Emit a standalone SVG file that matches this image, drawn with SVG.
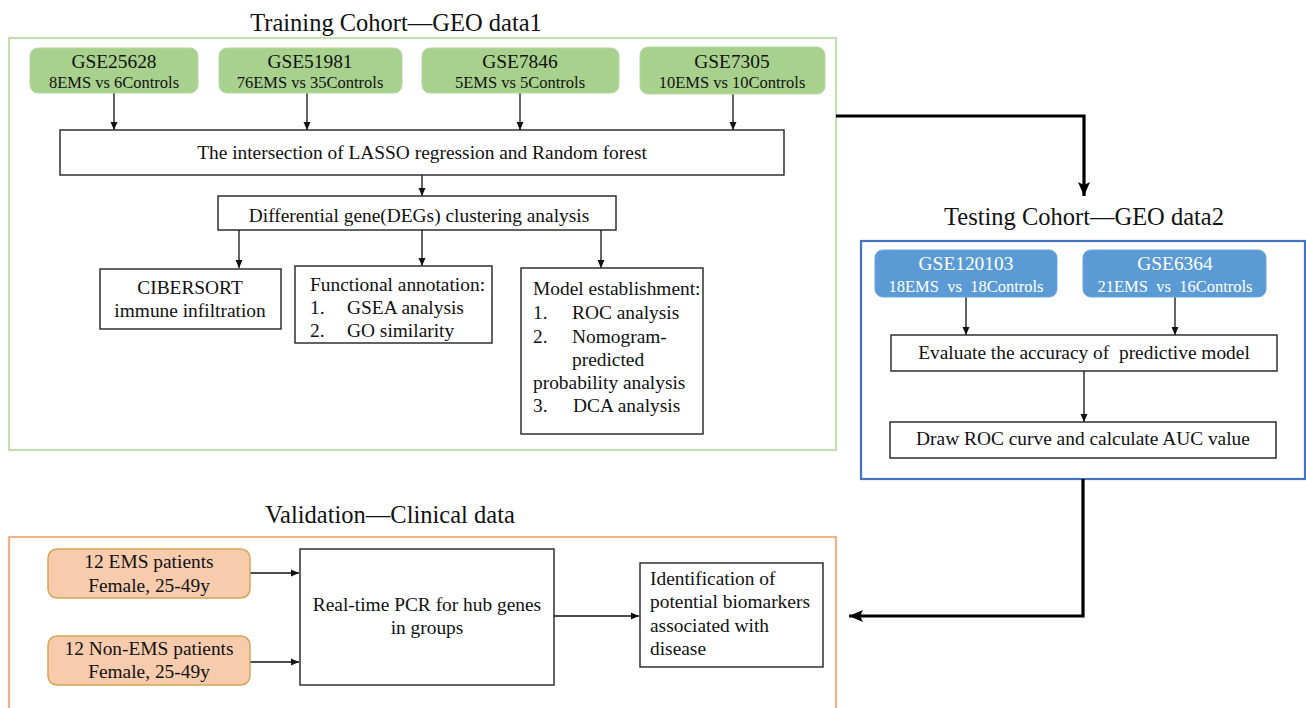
<svg xmlns="http://www.w3.org/2000/svg" width="1306" height="708" viewBox="0 0 1306 708">
<style>
text{font-family:"Liberation Serif","Times New Roman",serif;fill:#111}
.title{font-size:24.5px;text-anchor:middle}
.t19{font-size:19.4px}
.t15{font-size:16.5px}
.t16{font-size:16.5px}
.c{text-anchor:middle}
.box{fill:#fff;stroke:#222;stroke-width:1.4}
.gnode{fill:#a9d18e;stroke:#b5d9a0;stroke-width:1}
.bnode{fill:#5b9bd5;stroke:#6aa5da;stroke-width:1}
.onode{fill:#f8cbad;stroke:#d4a656;stroke-width:1.5}
.w{fill:#fff}
.conn{fill:none;stroke:#111;stroke-width:1.3}
.thick{fill:none;stroke:#000;stroke-width:3.2}
</style>
<defs>
<marker id="a" viewBox="0 0 8 8" refX="8" refY="4" markerWidth="8" markerHeight="8" markerUnits="userSpaceOnUse" orient="auto"><path d="M0,0.5 L8,4 L0,7.5 z" fill="#111"/></marker>
<marker id="A" viewBox="0 0 14 14" refX="14" refY="7" markerWidth="14" markerHeight="14" markerUnits="userSpaceOnUse" orient="auto"><path d="M0,1 L14,7 L0,13 L3,7 z" fill="#000"/></marker>
</defs>

<!-- containers -->
<g id="training-cohort">
<rect x="9" y="38" width="827" height="412" fill="none" stroke="#c5e0b4" stroke-width="2.2"/>
<text class="title" x="396" y="31">Training Cohort—GEO data1</text>
</g>
<g id="testing-cohort">
<rect x="861" y="241" width="444" height="238" fill="none" stroke="#4472c4" stroke-width="2.2"/>
<text class="title" x="1084" y="225">Testing Cohort—GEO data2</text>
</g>
<g id="validation">
<path d="M9,712 L9,537 L836,537 L836,712" fill="none" stroke="#f4b183" stroke-width="2.2"/>
<text class="title" x="390" y="523">Validation—Clinical data</text>
</g>

<!-- connectors -->
<g id="connectors">
<line class="conn" x1="114" y1="93" x2="114" y2="130" marker-end="url(#a)"/>
<line class="conn" x1="307" y1="93" x2="307" y2="130" marker-end="url(#a)"/>
<line class="conn" x1="520" y1="93" x2="520" y2="130" marker-end="url(#a)"/>
<line class="conn" x1="733" y1="94" x2="733" y2="130" marker-end="url(#a)"/>
<line class="conn" x1="422" y1="175" x2="422" y2="196" marker-end="url(#a)"/>
<line class="conn" x1="239" y1="230" x2="239" y2="268" marker-end="url(#a)"/>
<line class="conn" x1="422" y1="230" x2="422" y2="266" marker-end="url(#a)"/>
<line class="conn" x1="601" y1="230" x2="601" y2="268" marker-end="url(#a)"/>
<line class="conn" x1="966" y1="297" x2="966" y2="335" marker-end="url(#a)"/>
<line class="conn" x1="1175" y1="297" x2="1175" y2="335" marker-end="url(#a)"/>
<line class="conn" x1="1084" y1="371" x2="1084" y2="422" marker-end="url(#a)"/>
<line class="conn" x1="250" y1="573" x2="299" y2="573" marker-end="url(#a)"/>
<line class="conn" x1="250" y1="662" x2="299" y2="662" marker-end="url(#a)"/>
<line class="conn" x1="554" y1="616" x2="639" y2="616" marker-end="url(#a)"/>
<polyline class="thick" points="836,116 1084,116 1084,196" marker-end="url(#A)"/>
<polyline class="thick" points="1083,479 1083,616 849,616" marker-end="url(#A)"/>
</g>

<!-- training nodes -->
<g id="gse25628">
<rect class="gnode" x="30" y="48" width="168" height="45" rx="8"/>
<text class="t19 c" x="114" y="68">GSE25628</text>
<text class="t15 c" x="114" y="88">8EMS vs 6Controls</text>
</g>
<g id="gse51981">
<rect class="gnode" x="219" y="48" width="183" height="45" rx="8"/>
<text class="t19 c" x="310" y="68">GSE51981</text>
<text class="t15 c" x="310" y="88">76EMS vs 35Controls</text>
</g>
<g id="gse7846">
<rect class="gnode" x="422" y="48" width="197" height="45" rx="8"/>
<text class="t19 c" x="520" y="68">GSE7846</text>
<text class="t15 c" x="520" y="88">5EMS vs 5Controls</text>
</g>
<g id="gse7305">
<rect class="gnode" x="640" y="47" width="185" height="47" rx="8"/>
<text class="t19 c" x="732" y="68">GSE7305</text>
<text class="t15 c" x="732" y="88">10EMS vs 10Controls</text>
</g>
<g id="lasso-rf">
<rect class="box" x="60" y="130" width="724" height="45"/>
<text class="t19 c" x="422" y="159">The intersection of LASSO regression and Random forest</text>
</g>
<g id="degs">
<rect class="box" x="218" y="196" width="398" height="34"/>
<text class="t19 c" x="419" y="222">Differential gene(DEGs) clustering analysis</text>
</g>
<g id="cibersort">
<rect class="box" x="100" y="269" width="181" height="60"/>
<text class="t19 c" x="190" y="294">CIBERSORT</text>
<text class="t19 c" x="190" y="317">immune infiltration</text>
</g>
<g id="functional">
<rect class="box" x="295" y="266" width="197" height="77"/>
<text class="t19" x="310" y="291">Functional annotation:</text>
<text class="t19" x="310" y="314">1.</text><text class="t19" x="347" y="314">GSEA analysis</text>
<text class="t19" x="310" y="337">2.</text><text class="t19" x="347" y="337">GO similarity</text>
</g>
<g id="model">
<rect class="box" x="521" y="268" width="182" height="166"/>
<text class="t19" x="533" y="295">Model establishment:</text>
<text class="t19" x="533" y="319">1.</text><text class="t19" x="572" y="319">ROC analysis</text>
<text class="t19" x="533" y="343">2.</text><text class="t19" x="572" y="343">Nomogram-</text>
<text class="t19" x="572" y="366">predicted</text>
<text class="t19" x="533" y="389">probability analysis</text>
<text class="t19" x="533" y="412">3.</text><text class="t19" x="573" y="412">DCA analysis</text>
</g>

<!-- testing nodes -->
<g id="gse120103">
<rect class="bnode" x="875" y="250" width="182" height="47" rx="8"/>
<text class="t19 c w" x="966" y="270">GSE120103</text>
<text class="t16 c w" x="966" y="292" xml:space="preserve">18EMS  vs  18Controls</text>
</g>
<g id="gse6364">
<rect class="bnode" x="1083" y="250" width="183" height="47" rx="8"/>
<text class="t19 c w" x="1175" y="270">GSE6364</text>
<text class="t16 c w" x="1175" y="292" xml:space="preserve">21EMS  vs  16Controls</text>
</g>
<g id="evaluate">
<rect class="box" x="891" y="335" width="386" height="36"/>
<text class="t19 c" x="1084" y="359" xml:space="preserve">Evaluate the accuracy of  predictive model</text>
</g>
<g id="roc-auc">
<rect class="box" x="890" y="422" width="386" height="36"/>
<text class="t19 c" x="1083" y="445">Draw ROC curve and calculate AUC value</text>
</g>

<!-- validation nodes -->
<g id="ems-patients">
<rect class="onode" x="48" y="549" width="202" height="49" rx="9"/>
<text class="t19 c" x="149" y="568">12 EMS patients</text>
<text class="t19 c" x="149" y="592">Female, 25-49y</text>
</g>
<g id="non-ems-patients">
<rect class="onode" x="48" y="636" width="202" height="49" rx="9"/>
<text class="t19 c" x="149" y="655">12 Non-EMS patients</text>
<text class="t19 c" x="149" y="678">Female, 25-49y</text>
</g>
<g id="pcr">
<rect class="box" x="300" y="549" width="254" height="136"/>
<text class="t19 c" x="427" y="611">Real-time PCR for hub genes</text>
<text class="t19 c" x="427" y="634">in groups</text>
</g>
<g id="biomarkers">
<rect class="box" x="640" y="563" width="183" height="104"/>
<text class="t19" x="650" y="585">Identification of</text>
<text class="t19" x="650" y="608">potential biomarkers</text>
<text class="t19" x="650" y="632">associated with</text>
<text class="t19" x="650" y="655">disease</text>
</g>
</svg>
